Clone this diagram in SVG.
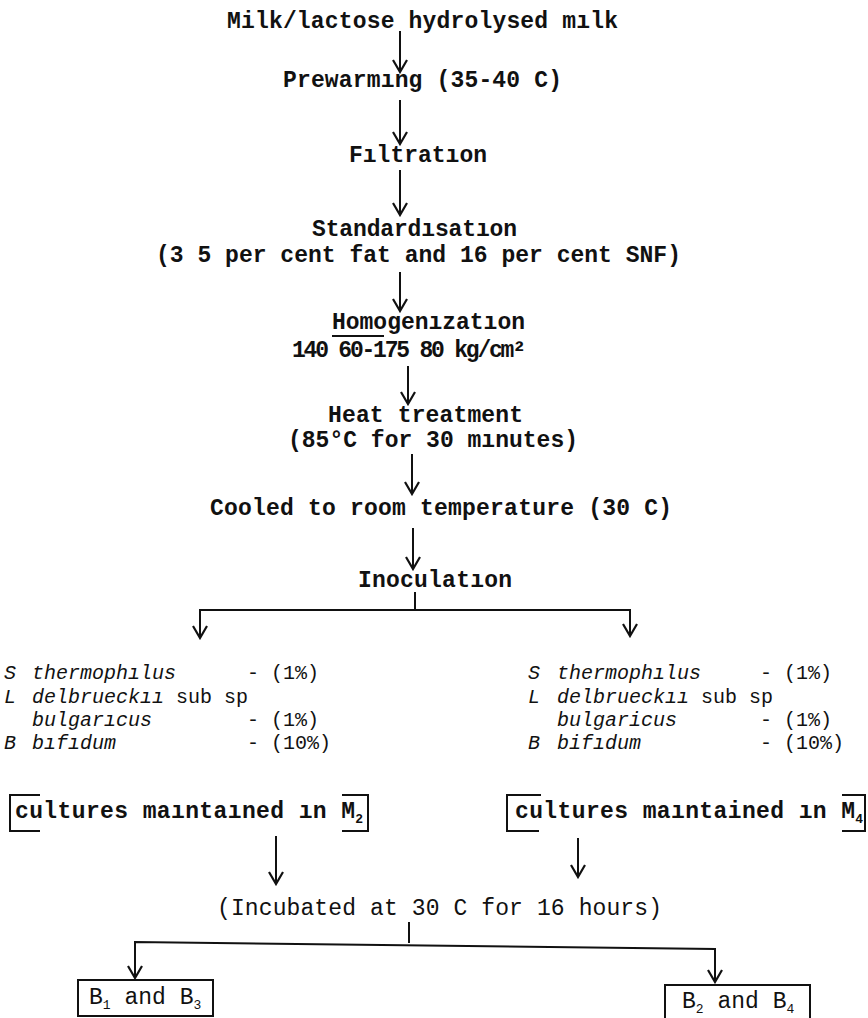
<svg xmlns="http://www.w3.org/2000/svg" width="868" height="1018" viewBox="0 0 868 1018">
<style>
  text { font-family: "Liberation Mono", "DejaVu Sans Mono", monospace; font-size: 23px; fill: #111; }
  .b { font-weight: bold; }
  .c { text-anchor: middle; }
  .i { font-style: italic; }
  .l { font-size: 20px; }
  .sub { font-size: 13px; }
  .ln { stroke: #111; stroke-width: 2; fill: none; }
</style>
<defs>
  <marker id="ah" markerWidth="16" markerHeight="16" viewBox="-14 -8 16 16" refX="0" refY="0" orient="auto-start-reverse" markerUnits="userSpaceOnUse">
    <path d="M-12,-7 L0,0 L-12,7" stroke="#111" stroke-width="2.2" fill="none"/>
  </marker>
</defs>
<rect width="868" height="1018" fill="#fff"/>

<g id="n1"><text class="b" x="227" y="28" textLength="391">Milk/lactose hydrolysed mılk</text></g>
<g id="n2"><text class="b" x="283" y="87" textLength="279">Prewarmıng (35-40 C)</text></g>
<g id="n3"><text class="b c" x="418" y="162">Fıltratıon</text></g>
<g id="n4"><text class="b" x="312" y="236" textLength="205">Standardısatıon</text><text class="b" x="156" y="262" textLength="525">(3 5 per cent fat and 16 per cent SNF)</text></g>
<g id="n5"><text class="b" x="332" y="329" textLength="193">Homogenızatıon</text><line class="ln" x1="332" y1="336" x2="384" y2="336" stroke-width="1.5"/><text class="b" x="292" y="357" font-size="20" textLength="234">140 60-175 80 kg/cm²</text></g>
<g id="n6"><text class="b" x="328" y="422" textLength="195">Heat treatment</text><text class="b" x="288" y="447" textLength="290">(85°C for 30 mınutes)</text></g>
<g id="n7"><text class="b" x="210" y="515" textLength="462">Cooled to room temperature (30 C)</text></g>
<g id="n8"><text class="b" x="358" y="587" textLength="154">Inoculatıon</text></g>

<g id="n9">
  <text class="l i" x="4" y="679">S</text><text class="l i" x="32" y="679">thermophılus</text><text class="l" x="247" y="679">- (1%)</text>
  <text class="l i" x="4" y="703">L</text><text class="l" x="32" y="703"><tspan class="i">delbrueckıı</tspan> sub sp</text>
  <text class="l i" x="32" y="726">bulgarıcus</text><text class="l" x="247" y="726">- (1%)</text>
  <text class="l i" x="4" y="749">B</text><text class="l i" x="32" y="749">bıfıdum</text><text class="l" x="247" y="749">- (10%)</text>
</g>
<g id="n10">
  <text class="l i" x="528" y="679">S</text><text class="l i" x="557" y="679">thermophılus</text><text class="l" x="760" y="679">- (1%)</text>
  <text class="l i" x="528" y="703">L</text><text class="l" x="557" y="703"><tspan class="i">delbrueckıı</tspan> sub sp</text>
  <text class="l i" x="557" y="726">bulgaricus</text><text class="l" x="760" y="726">- (1%)</text>
  <text class="l i" x="528" y="749">B</text><text class="l i" x="557" y="749">bifıdum</text><text class="l" x="760" y="749">- (10%)</text>
</g>

<g id="n11">
  <text class="b" x="15" y="818"><tspan textLength="340">cultures maıntaıned ın M</tspan><tspan class="sub" dy="5">2</tspan></text>
  <path class="ln" d="M40,795 L10,795 L10,831 L40,831"/>
  <path class="ln" d="M342,795 L368,795 L368,831 L342,831"/>
</g>
<g id="n12">
  <text class="b" x="515" y="818"><tspan textLength="340">cultures maıntained ın M</tspan><tspan class="sub" dy="5">4</tspan></text>
  <path class="ln" d="M541,795 L507,795 L507,831 L539,831"/>
  <path class="ln" d="M842,795 L865,795 L865,831 L842,831"/>
</g>

<g id="n13"><text x="217" y="915" textLength="445">(Incubated at 30 C for 16 hours)</text></g>
<g id="n14"><rect class="ln" x="78" y="980" width="135" height="36"/><text x="89" y="1004" font-size="21">B<tspan class="sub" dy="5">1</tspan><tspan dy="-5"> and B</tspan><tspan class="sub" dy="5">3</tspan></text></g>
<g id="n15"><rect class="ln" x="665" y="985" width="145" height="34"/><text x="682" y="1008" font-size="21">B<tspan class="sub" dy="5">2</tspan><tspan dy="-5"> and B</tspan><tspan class="sub" dy="5">4</tspan></text></g>

<g id="connectors">
  <line class="ln" x1="400" y1="31" x2="400" y2="72" marker-end="url(#ah)"/>
  <line class="ln" x1="400" y1="100" x2="400" y2="144" marker-end="url(#ah)"/>
  <line class="ln" x1="400" y1="170" x2="400" y2="215" marker-end="url(#ah)"/>
  <line class="ln" x1="400" y1="272" x2="400" y2="311" marker-end="url(#ah)"/>
  <line class="ln" x1="408" y1="366" x2="408" y2="404" marker-end="url(#ah)"/>
  <line class="ln" x1="412" y1="454" x2="412" y2="494" marker-end="url(#ah)"/>
  <line class="ln" x1="413" y1="528" x2="413" y2="569" marker-end="url(#ah)"/>
  <line class="ln" x1="415" y1="592" x2="415" y2="610"/>
  <polyline class="ln" points="200,638 200,610 630,610 630,636" marker-start="url(#ah)" marker-end="url(#ah)"/>
  <line class="ln" x1="276" y1="836" x2="276" y2="884" marker-end="url(#ah)"/>
  <line class="ln" x1="578" y1="838" x2="578" y2="877" marker-end="url(#ah)"/>
  <line class="ln" x1="409" y1="922" x2="409" y2="943"/>
  <polyline class="ln" points="135,978 135,942 715,949 715,982" marker-start="url(#ah)" marker-end="url(#ah)"/>
</g>
</svg>
